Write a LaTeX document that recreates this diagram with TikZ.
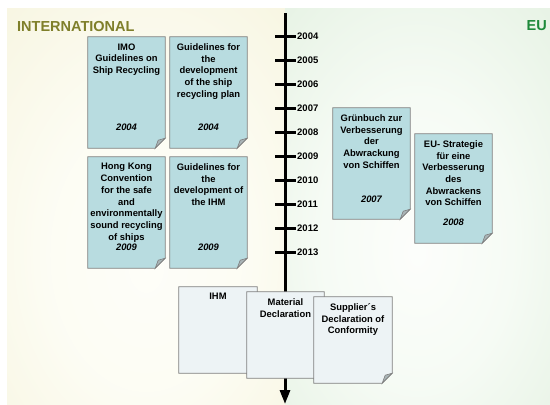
\documentclass[tikz,border=0pt]{standalone}
\usepackage{fontspec}
\setmainfont{Liberation Sans}
\usetikzlibrary{arrows.meta}
\usetikzlibrary{positioning}

\definecolor{intlolive}{HTML}{7F7F2A}
\definecolor{eugreen}{HTML}{1E8A3A}
\definecolor{papercol}{HTML}{B8DCE0}
\definecolor{palepaper}{HTML}{EDF3F5}
\definecolor{edgegray}{HTML}{7F7F7F}
\definecolor{foldgray}{HTML}{A9B4B6}

\pgfdeclareradialshading{intlglow}{\pgfpoint{0bp}{-8bp}}{%
  rgb(0bp)=(0.995,0.995,0.975); rgb(18bp)=(0.99,0.99,0.955);
  rgb(45bp)=(0.965,0.955,0.865); rgb(70bp)=(0.96,0.95,0.85)}
\pgfdeclareradialshading{euglow}{\pgfpoint{0bp}{-6bp}}{%
  rgb(0bp)=(0.99,0.995,0.985); rgb(18bp)=(0.965,0.985,0.96);
  rgb(45bp)=(0.885,0.94,0.875); rgb(70bp)=(0.87,0.935,0.86)}

\tikzset{
  paper/.style={draw=none, minimum width=77pt, inner sep=0pt},
  papertext/.style={font=\bfseries\fontsize{9.4}{11.7}\selectfont, align=center, anchor=north, inner sep=0pt},
  yeartext/.style={font=\bfseries\itshape\fontsize{9.4}{11.7}\selectfont, inner sep=0pt},
  ticklabel/.style={font=\bfseries\fontsize{9.5}{11}\selectfont, anchor=west, inner sep=0pt},
  sidetitle/.style={font=\bfseries\fontsize{14.5}{16}\selectfont, inner sep=0pt}
}

% outline of a sheet with a folded corner, drawn round a node
\newcommand{\dogear}[2]{%
  \filldraw[fill=#2, draw=edgegray, line width=0.8pt]
    (#1.north west) -- (#1.north east) -- ([yshift=10pt]#1.south east)
    -- ([xshift=-10pt]#1.south east) -- (#1.south west) -- cycle;
  \filldraw[fill=foldgray, draw=edgegray, line width=0.6pt]
    ([yshift=10pt]#1.south east) -- ([xshift=-7pt,yshift=8pt]#1.south east)
    -- ([xshift=-10pt]#1.south east) -- cycle;
}

\begin{document}
\begin{tikzpicture}[x=1pt, y=-1pt]
    \useasboundingbox (0,0) rectangle (550,405);

    % background
    \shade[shading=intlglow] (7,8) rectangle (285,405);
    \shade[shading=euglow] (285,8) rectangle (550,405);

    % time axis
    \coordinate (tltop) at (285,13);
    \coordinate (tlend) at (285,404);
    \draw[line width=3pt, -{Triangle[length=14pt, width=10pt]}] (tltop) -- (tlend);

    \foreach \yr [count=\i from 0] in {2004,...,2013} {
        \draw[line width=3pt] (275,36+24*\i) -- (296,36+24*\i);
        \node[ticklabel] (yr\yr) at (297,36+24*\i) {\yr};
    }

    % international documents
    \node[paper, minimum height=111pt] (imo) at (126.5,92.5) {};
    \dogear{imo}{papercol}
    \node[papertext, below=6.5pt of imo.north] (imotxt) {IMO\\Guidelines on\\Ship Recycling};
    \node[yeartext, above=17.5pt of imo.south] (imoyr) {2004};

    \node[paper, minimum height=111pt] (srp) at (208.5,92.5) {};
    \dogear{srp}{papercol}
    \node[papertext, below=6.5pt of srp.north] (srptxt) {Guidelines for\\the\\development\\of the ship\\recycling plan};
    \node[yeartext, above=17.5pt of srp.south] (srpyr) {2004};

    \node[paper, minimum height=111pt] (hkc) at (126.5,212.5) {};
    \dogear{hkc}{papercol}
    \node[papertext, below=6.5pt of hkc.north] (hkctxt) {Hong Kong\\Convention\\for the safe\\and\\environmentally\\sound recycling\\of ships};
    \node[yeartext, above=17.5pt of hkc.south] (hkcyr) {2009};

    \node[paper, minimum height=111pt] (ihmg) at (208.5,212.5) {};
    \dogear{ihmg}{papercol}
    \node[papertext, below=6.5pt of ihmg.north] (ihmgtxt) {Guidelines for\\the\\development of\\the IHM};
    \node[yeartext, above=17.5pt of ihmg.south] (ihmgyr) {2009};

    % EU documents
    \node[paper, minimum height=111pt] (gruen) at (371.5,163.5) {};
    \dogear{gruen}{papercol}
    \node[papertext, below=6.5pt of gruen.north] (gruentxt) {Grünbuch zur\\Verbesserung\\der\\Abwrackung\\von Schiffen};
    \node[yeartext, above=16pt of gruen.south] (gruenyr) {2007};

    \node[paper, minimum height=109pt] (eustr) at (453.5,188.5) {};
    \dogear{eustr}{papercol}
    \node[papertext, below=6.5pt of eustr.north] (eustrtxt) {EU- Strategie\\für eine\\Verbesserung\\des\\Abwrackens\\von Schiffen};
    \node[yeartext, above=17pt of eustr.south] (eustryr) {2008};

    % documents on board
    \node[paper, minimum width=78pt, minimum height=86pt] (ihm) at (218,330) {};
    \dogear{ihm}{palepaper}
    \node[papertext, below=6.5pt of ihm.north] (ihmtxt) {IHM};

    \node[paper, minimum height=86pt] (mdec) at (285.5,335) {};
    \dogear{mdec}{palepaper}
    \node[papertext, below=6.5pt of mdec.north] (mdectxt) {Material\\Declaration};

    \node[paper, minimum width=78pt, minimum height=86pt] (sdoc) at (353,340) {};
    \dogear{sdoc}{palepaper}
    \node[papertext, below=6.5pt of sdoc.north] (sdoctxt) {Supplier´s\\Declaration of\\Conformity};

    \node[sidetitle, intlolive, anchor=base west] (intl) at (17,31) {INTERNATIONAL};
    \node[sidetitle, eugreen, anchor=base east] (eu) at (547,30) {EU};
\end{tikzpicture}
\end{document}
